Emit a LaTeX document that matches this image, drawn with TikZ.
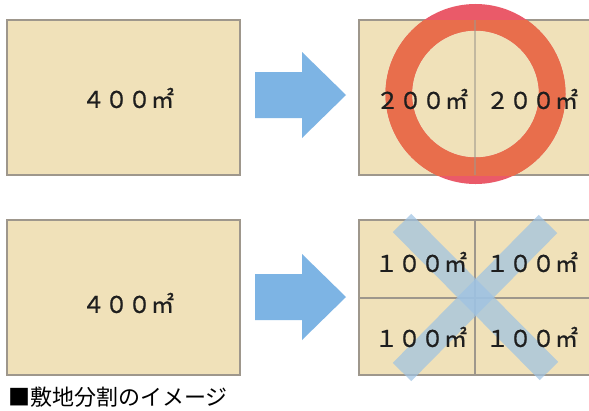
\documentclass[tikz,border=0pt]{standalone}
\usepackage{fontspec}
\newfontfamily\jpfont{Noto Sans CJK JP}
\newfontfamily\jpnum[FakeBold=0.8]{Noto Sans CJK JP}
\definecolor{lotfill}{HTML}{F0E1B9}
\definecolor{lotedge}{HTML}{9E978C}
\definecolor{arrowblue}{HTML}{7DB4E4}
\definecolor{ringout}{HTML}{EA5A69}
\definecolor{ringin}{HTML}{E86E4C}
\definecolor{crossblue}{HTML}{9DC2E3}
\definecolor{txt}{HTML}{1E1E1E}
\tikzset{
  lot/.style={fill=lotfill, draw=lotedge, line width=2pt},
  divline/.style={draw=lotedge, line width=2.5pt},
  bigarrow/.style={fill=arrowblue, draw=none},
  area/.style={font=\jpnum\fontsize{23}{25}\selectfont, text=txt, inner sep=0pt},
  caption/.style={font=\jpfont\fontsize{22}{24}\selectfont, text=black, inner sep=0pt, anchor=west},
}
\begin{document}
\begin{tikzpicture}[x=1pt,y=-1pt]
\useasboundingbox (0,0) rectangle (589,410);
\fill[white] (0,0) rectangle (589,410);
% top left lot
\path[lot] (7,20) rectangle (240,175);
\node[area] (t400) at (128,98) {４００㎡};
% top arrow
\path[bigarrow] (255,72) -- (302,72) -- (302,52) -- (346,95) -- (302,138) -- (302,118) -- (255,118) -- cycle;
% top right lot
\path[lot] (359,20) rectangle (592,175);
% ring
\draw[ringout, line width=26.5pt] (475.5,94) circle[radius=76.75];
\begin{scope}
\clip (359,20) rectangle (592,175);
\draw[ringin, line width=26.5pt] (475.5,94) circle[radius=76.75];
\end{scope}
\draw[divline, draw opacity=0.55] (475,20) -- (475,175);
\node[area] (t200a) at (422,99) {２００㎡};
\node[area] (t200b) at (532,99) {２００㎡};
% bottom left lot
\path[lot] (7,220) rectangle (240,375);
\node[area] (b400) at (128,303) {４００㎡};
% bottom arrow
\path[bigarrow] (255,274) -- (302,274) -- (302,254) -- (346,297) -- (302,340) -- (302,320) -- (255,320) -- cycle;
% bottom right lot
\path[lot] (359,220) rectangle (592,375);
\draw[divline] (475,220) -- (475,375);
\draw[divline] (359,298) -- (592,298);
% cross
\coordinate (xa) at (402,223);
\coordinate (xb) at (549,371);
\coordinate (xc) at (548,224);
\coordinate (xd) at (402,372);
\draw[crossblue, line width=26pt, opacity=0.7] (xa) -- (xb);
\draw[crossblue, line width=26pt, opacity=0.7] (xc) -- (xd);
\node[area] (b100a) at (421,262) {１００㎡};
\node[area] (b100b) at (532,262) {１００㎡};
\node[area] (b100c) at (421,337) {１００㎡};
\node[area] (b100d) at (532,337) {１００㎡};
% caption
\node[caption] (cap) at (8,397) {■敷地分割のイメージ};
\end{tikzpicture}
\end{document}
